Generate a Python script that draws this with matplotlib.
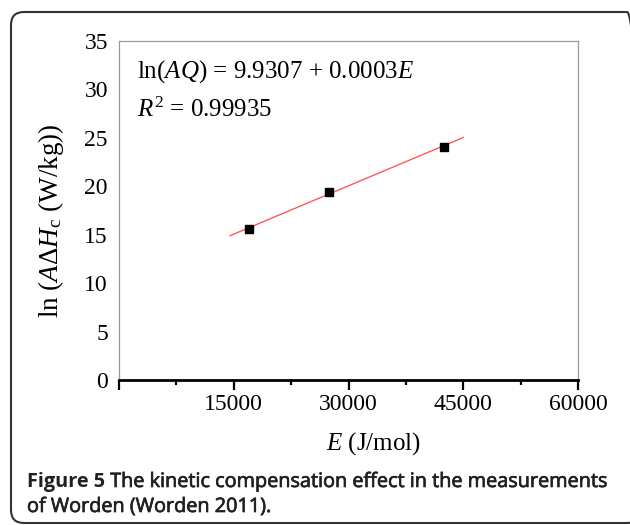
import numpy as np
import matplotlib
matplotlib.use("Agg")
import matplotlib.pyplot as plt
import matplotlib.patheffects as pe
from matplotlib.patches import FancyBboxPatch
from matplotlib.ticker import FixedLocator

# ---- data ----
E_vals = [17000, 27400, 42450]          # J/mol
lnAQ_vals = [15.6, 19.4, 24.1]
fit_range = [14500, 45000]
x_ticks = [15000, 30000, 45000, 60000]
x_tick_labels = ["15000", "30000", "45000", "60000"]
y_ticks = [0, 5, 10, 15, 20, 25, 30, 35]
eq_text = r"ln($AQ$) = 9.9307 + 0.0003$E$"
r2_text = r"$R^2$ = 0.99935"
caption_bold = "Figure 5"
caption_rest = " The kinetic compensation effect in the measurements"
caption_line2 = "of Worden (Worden 2011)."

plt.rcParams["font.family"] = ["Liberation Serif", "DejaVu Serif"]
plt.rcParams["mathtext.fontset"] = "custom"
plt.rcParams["mathtext.rm"] = "Liberation Serif"
plt.rcParams["mathtext.it"] = "Liberation Serif:italic"
plt.rcParams["mathtext.bf"] = "Liberation Serif:bold"

W, H = 630, 525
fig = plt.figure(figsize=(W / 100, H / 100), dpi=100)
fig.patch.set_facecolor("white")

ax = fig.add_axes([119 / W, 1 - 380 / H, (578 - 119) / W, (380 - 41) / H])

# fit line
coef = np.polyfit(E_vals, lnAQ_vals, 1)
xf = np.array(fit_range, dtype=float)
ax.plot(xf, np.polyval(coef, xf), color="#ff5a5a", lw=1.0, zorder=2)
ax.plot(E_vals, lnAQ_vals, linestyle="none", marker="s", markersize=5.5,
        color="black", zorder=3)

ax.set_xlim(0, 60000)
ax.set_ylim(0, 35)
ax.xaxis.set_major_locator(FixedLocator([0] + x_ticks))
ax.xaxis.set_minor_locator(FixedLocator([7500, 22500, 37500, 52500]))
ax.set_xticklabels([""] + x_tick_labels)
ax.set_yticks(y_ticks)
ax.set_yticklabels([str(v) for v in y_ticks])

ax.tick_params(axis="x", which="major", direction="out", length=7, width=1.6,
               color="black", labelsize=17, pad=3)
ax.tick_params(axis="x", which="minor", direction="out", length=3.5, width=1.6,
               color="black")
ax.tick_params(axis="y", length=0, labelsize=17, pad=8)

for s in ["top", "right", "left"]:
    ax.spines[s].set_color("#999999")
    ax.spines[s].set_linewidth(0.9)
ax.spines["bottom"].set_color("black")
ax.spines["bottom"].set_linewidth(2.0)

ax.set_xlabel(r"$E$ (J/mol)", fontsize=18)
ax.xaxis.label.set_va("baseline")
ax.xaxis.set_label_coords((373 - 119) / 459, (380 - 450) / 339)

ax.set_ylabel(r"ln ($A\Delta H_{\rm c}$ (W/kg))", fontsize=19.5)
ax.yaxis.set_label_coords((66 - 119) / 459, (380 - 221) / 339)

ax.text(0.039, (380 - 78) / 339, eq_text, transform=ax.transAxes, fontsize=18,
        ha="left", va="baseline")
ax.text(0.039, (380 - 117) / 339, r2_text, transform=ax.transAxes, fontsize=18,
        ha="left", va="baseline")

# caption
cap_font = ["Open Sans", "DejaVu Sans"]
cap_size = 14.3
cap_col = "#231f20"
thick = [pe.withStroke(linewidth=0.5, foreground=cap_col)]
t1 = fig.text(27 / W, 1 - 487 / H, caption_bold, fontsize=cap_size, fontweight="bold",
              family=cap_font, color=cap_col, ha="left", va="baseline")
fig.canvas.draw()
bb = t1.get_window_extent()
fig.text(bb.x1 / W, 1 - 487 / H, caption_rest, fontsize=cap_size,
         family=cap_font, color=cap_col, ha="left", va="baseline", path_effects=thick)
fig.text(27 / W, 1 - 512 / H, caption_line2, fontsize=cap_size,
         family=cap_font, color=cap_col, ha="left", va="baseline", path_effects=thick)

# rounded frame
frame = FancyBboxPatch((11 / 100, (H - 523) / 100), (640 - 11) / 100, (523 - 12) / 100,
                       boxstyle="round,pad=0,rounding_size=0.13",
                       transform=fig.dpi_scale_trans, fill=False,
                       edgecolor="#333333", linewidth=1.5)
fig.add_artist(frame)

fig.savefig("out.png", dpi=100, facecolor="white")
